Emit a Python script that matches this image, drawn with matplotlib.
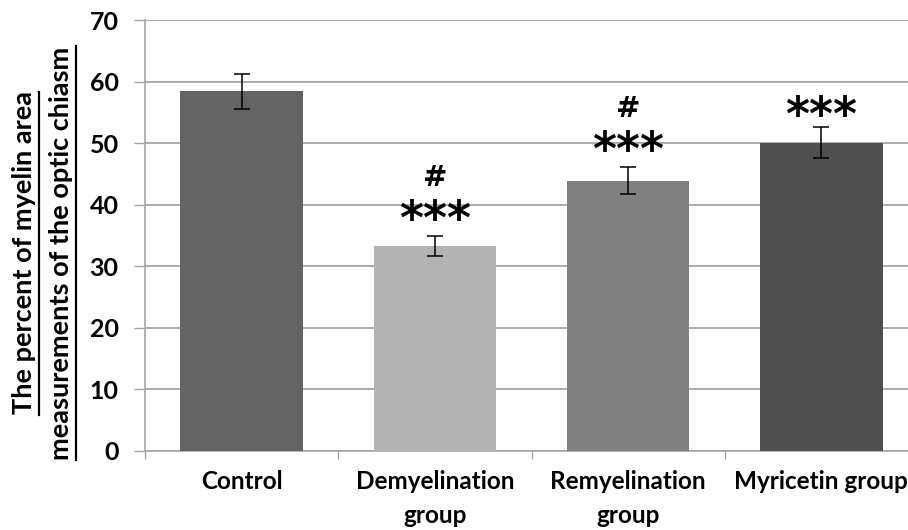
import matplotlib
matplotlib.use("Agg")
import matplotlib.pyplot as plt
from matplotlib.lines import Line2D

categories = ["Control", "Demyelination\ngroup", "Remyelination\ngroup", "Myricetin group"]
values = [58.4, 33.3, 43.9, 50.1]
errors = [2.9, 1.7, 2.2, 2.5]
colors = ["#636363", "#b3b3b3", "#808080", "#4f4f4f"]
stars = ["", "***", "***", "***"]
hashes = ["", "#", "#", ""]
star_y = [0, 37.3, 48.5, 54.2]
hash_y = [0, 44.4, 55.6, 0]
yticks = [0, 10, 20, 30, 40, 50, 60, 70]
ylabel_lines = ["The percent of myelin area", "measurements of the optic chiasm"]

plt.rcParams['font.family'] = ['Lato', 'DejaVu Sans']
fig = plt.figure(figsize=(9.08, 5.3), dpi=100)
W, H = 908, 530
ax = fig.add_axes([145 / W, (H - 451) / H, (918 - 145) / W, (451 - 20) / H])
ax.set_xlim(-0.5, 3.5)
ax.set_ylim(0, 70)
x = list(range(len(categories)))
ax.bar(x, values, width=0.635, color=colors, zorder=3)
ax.errorbar(x, values, yerr=errors, fmt='none', ecolor='black', elinewidth=1.1,
            capsize=6, capthick=1.1, zorder=4)
for i in x:
    if stars[i]:
        ax.text(i, star_y[i], stars[i], ha='center', va='center', fontsize=33,
                fontweight='bold', family='DejaVu Sans', zorder=5)
    if hashes[i]:
        ax.text(i, hash_y[i], hashes[i], ha='center', va='center', fontsize=21,
                fontweight='bold', family='DejaVu Sans', zorder=5)
ax.set_yticks(yticks)
ax.yaxis.grid(True, color='#a6a6a6', linewidth=1.3, zorder=0)
ax.set_axisbelow(True)
ax.set_xticks([-0.5, 0.5, 1.5, 2.5, 3.5], minor=False)
ax.set_xticklabels([])
ax.set_xticks(x, minor=True)
ax.set_xticklabels(categories, minor=True, fontsize=17.5, fontweight='bold', linespacing=1.55)
ax.tick_params(axis='x', which='minor', length=0, pad=14)
ax.tick_params(axis='x', which='major', length=6, color='#a6a6a6', width=1)
ax.tick_params(axis='y', length=8, color='#a6a6a6', width=1, pad=11, labelsize=18)
for lab in ax.get_yticklabels():
    lab.set_fontweight('bold')
for s in ['top', 'right']:
    ax.spines[s].set_visible(False)
for s in ['left', 'bottom']:
    ax.spines[s].set_color('#a6a6a6')
    ax.spines[s].set_linewidth(1.2)

# y label, two underlined lines
fig.canvas.draw()
renderer = fig.canvas.get_renderer()
for xp, txt in [(24.5, ylabel_lines[0]), (61.5, ylabel_lines[1])]:
    t = fig.text(xp / W, 1 - 253 / H, txt, rotation=90, ha='center', va='center',
                 fontsize=19.5, fontweight='bold')
    bb = t.get_window_extent(renderer=renderer)
    ux = bb.x1 + 2
    fig.add_artist(Line2D([ux / W, ux / W], [bb.y0 / H, bb.y1 / H], color='black',
                          linewidth=1.6, transform=fig.transFigure))

fig.savefig("out.png", dpi=100)
